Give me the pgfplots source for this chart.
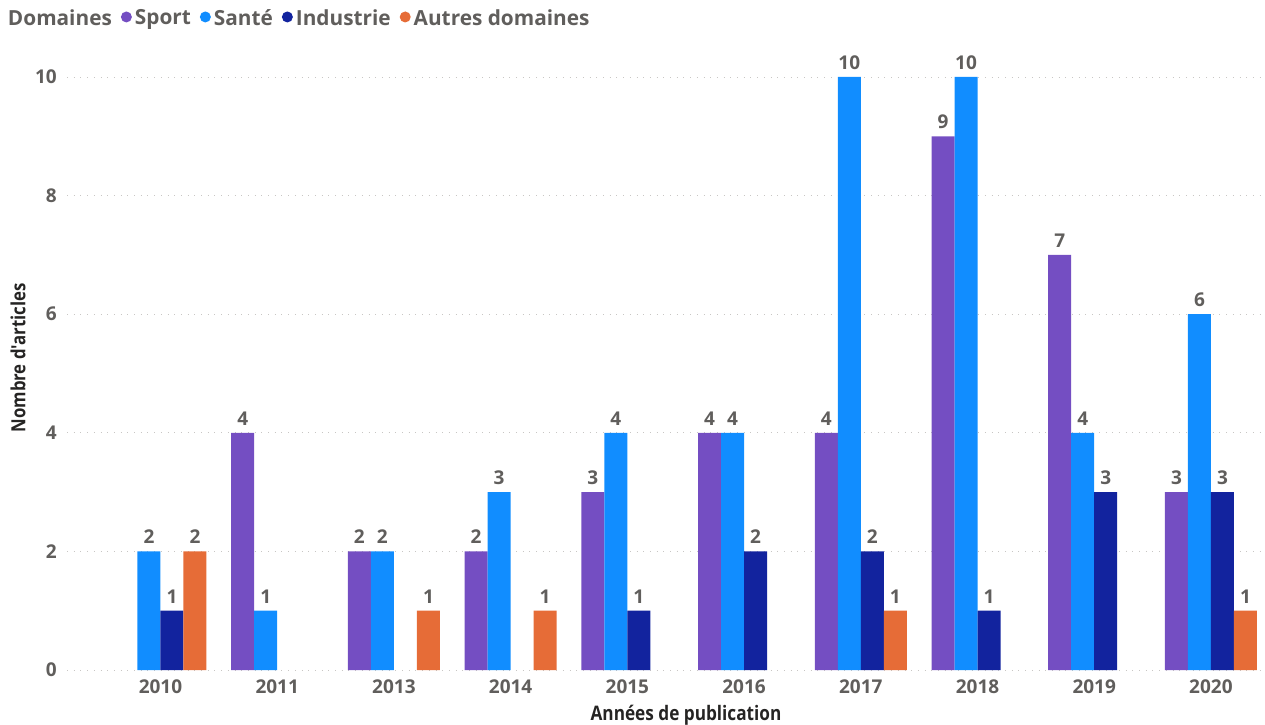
\documentclass[border=0pt]{standalone}
\usepackage{pgfplots}
\pgfplotsset{compat=1.18}
\usepackage{fontspec}
\setmainfont{Open Sans}
\newfontfamily\condfont[FakeStretch=0.86]{Open Sans}
\definecolor{sportc}{HTML}{744EC2}
\definecolor{santec}{HTML}{118DFF}
\definecolor{indc}{HTML}{12239E}
\definecolor{autc}{HTML}{E66C37}
\definecolor{labgray}{HTML}{605E5C}
\definecolor{titgray}{HTML}{252423}
\definecolor{gridc}{HTML}{C8C6C4}
\pgfplotsset{dotleg/.style={legend image code/.code={\fill[#1] (4.5pt,1pt) circle (5.5pt);}}}
\begin{document}
\begin{tikzpicture}[x=1pt,y=1pt]
\begin{axis}[
  at={(67pt,54pt)}, anchor=south west,
  scale only axis, width=1195pt, height=610.8pt,
  xmin=-0.801, xmax=9.437, ymin=0, ymax=10.3,
  ybar=0pt, bar width=23pt,
  xtick={0,...,9},
  xticklabels={2010,2011,2013,2014,2015,2016,2017,2018,2019,2020},
  ytick={0,2,4,6,8,10},
  axis line style={draw=none}, major tick length=0pt,
  ymajorgrids, grid style={gridc, line width=0.9pt, dash pattern=on 0.9pt off 5.8pt},
  /pgf/number format/assume math mode=true,
  ticklabel style={font=\bfseries\fontsize{19}{22}\selectfont, text=labgray},
  yticklabel style={anchor=east, inner sep=0pt, xshift=-10pt},
  xticklabel style={anchor=north, inner sep=0pt, yshift=-10pt},
  xlabel={Années de publication},
  ylabel={Nombre d'articles},
  xlabel style={at={(axis description cs:0.518,-0.0573)}, anchor=north, inner sep=0pt,
    font=\condfont\bfseries\fontsize{20}{22}\selectfont, text=titgray},
  ylabel style={at={(axis description cs:-0.041,0.511)}, anchor=center, rotate=0, inner sep=0pt,
    font=\condfont\bfseries\fontsize{19.5}{22}\selectfont, text=titgray},
  nodes near coords,
  every node near coord/.append style={font=\bfseries\fontsize{19}{22}\selectfont, text=labgray, inner sep=0pt, anchor=south, yshift=7.5pt},
  legend style={at={(axis description cs:-0.0519,1.0675)}, anchor=west, draw=none, fill=none,
    inner sep=0pt, outer sep=0pt, legend columns=-1,
    nodes={inner sep=0pt, font=\bfseries\fontsize{20.8}{22}\selectfont, text=labgray},
    /tikz/every odd column/.style={column sep=3pt},
    /tikz/every even column/.style={column sep=9pt}},
  legend cell align=left,
]
\addlegendimage{legend image code/.code={}}
\addlegendentry{Domaines}
\addplot[fill=sportc, draw=none, dotleg=sportc] coordinates {(1,4) (2,2) (3,2) (4,3) (5,4) (6,4) (7,9) (8,7) (9,3)};
\addlegendentry{Sport}
\addplot[fill=santec, draw=none, dotleg=santec] coordinates {(0,2) (1,1) (2,2) (3,3) (4,4) (5,4) (6,10) (7,10) (8,4) (9,6)};
\addlegendentry{Santé}
\addplot[fill=indc, draw=none, dotleg=indc] coordinates {(0,1) (4,1) (5,2) (6,2) (7,1) (8,3) (9,3)};
\addlegendentry{Industrie}
\addplot[fill=autc, draw=none, dotleg=autc] coordinates {(0,2) (2,1) (3,1) (6,1) (9,1)};
\addlegendentry{Autres domaines}
\end{axis}
\pgfresetboundingbox
\path[use as bounding box] (0,0) rectangle (1265,724);
\end{tikzpicture}
\end{document}
